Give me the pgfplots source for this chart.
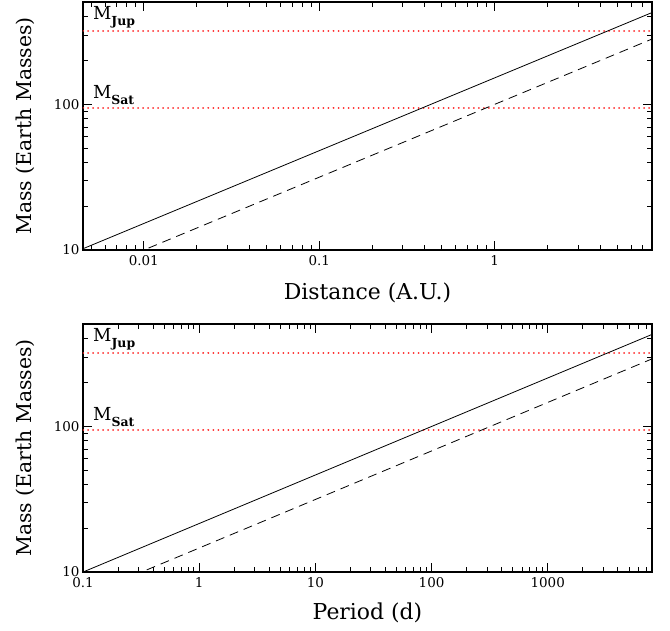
\documentclass[border=0pt]{standalone}
\usepackage{fontspec}
\setmainfont{DejaVu Serif}
\usepackage{pgfplots}
\pgfplotsset{compat=1.18}
\definecolor{myred}{RGB}{255,40,40}
\newcommand{\sub}[1]{\raisebox{-6bp}{\fontsize{12.5}{15}\selectfont\bfseries #1}}
\tikzset{
  mlab/.style={anchor=base west, font=\fontsize{18}{22}\selectfont, inner sep=0pt},
  reddots/.style={draw=myred, color=myred, line width=2bp, line cap=round, dash pattern=on 0.01bp off 5bp},
}
\pgfplotsset{
  mystyle/.style={
    scale only axis, width=569bp, height=248bp,
    ymin=10, ymax=505,
    ytick={10,100}, yticklabels={10,100},
    minor ytick={20,30,40,50,60,70,80,90,200,300,400,500},
    tick align=inside, major tick length=9bp, minor tick length=5bp,
    tick style={black, line width=0.8bp},
    axis line style={line width=1.2bp},
    /pgf/number format/assume math mode=true,
    xticklabel style={font=\fontsize{13.5}{16}\selectfont, yshift=-2bp},
    yticklabel style={font=\fontsize{13.5}{16}\selectfont},
    ylabel={Mass (Earth Masses)},
    ylabel style={at={(axis description cs:-0.102,0.5)}, anchor=center, font=\fontsize{20.5}{25}\selectfont},
    clip=true,
  },
}
\begin{document}
\begin{tikzpicture}
\useasboundingbox (0,0) rectangle (670bp,631bp);
\begin{axis}[xmode=log, ymode=log, mystyle, at={(83bp,381bp)}, anchor=south west,
  xmin=0.0045, xmax=7.9,
  xtick={0.01,0.1,1}, xticklabels={0.01,0.1,1},
  minor xtick={0.005,0.006,0.007,0.008,0.009,0.02,0.03,0.04,0.05,0.06,0.07,0.08,0.09,0.2,0.3,0.4,0.5,0.6,0.7,0.8,0.9,2,3,4,5,6,7},
  xlabel={Distance (A.U.)},
  xlabel style={at={(axis description cs:0.5,-0.2)}, anchor=base, font=\fontsize{22}{26}\selectfont},
]
\addplot[reddots] coordinates {(0.0045,317.8) (7.9,317.8)};
\addplot[reddots] coordinates {(0.0045,95.2) (7.9,95.2)};
\addplot[color=black, line width=0.8bp] coordinates {(0.001,4.81) (10,480.7)};
\addplot[color=black, line width=0.8bp, dash pattern=on 9bp off 6bp] coordinates {(0.001,3.16) (10,316.2)};
\node[mlab] at (axis cs:0.00512,384) {M\sub{Jup}};
\node[mlab] at (axis cs:0.00512,110) {M\sub{Sat}};
\end{axis}
\begin{axis}[xmode=log, ymode=log, mystyle, at={(83bp,59bp)}, anchor=south west,
  xmin=0.1, xmax=7900,
  xtick={0.1,1,10,100,1000}, xticklabels={0.1,1,10,100,1000},
  minor xtick={0.2,0.3,0.4,0.5,0.6,0.7,0.8,0.9,2,3,4,5,6,7,8,9,20,30,40,50,60,70,80,90,200,300,400,500,600,700,800,900,2000,3000,4000,5000,6000,7000},
  xlabel={Period (d)},
  xlabel style={at={(axis description cs:0.5,-0.19)}, anchor=base, font=\fontsize{22}{26}\selectfont},
]
\addplot[reddots] coordinates {(0.1,317.8) (7900,317.8)};
\addplot[reddots] coordinates {(0.1,95.2) (7900,95.2)};
\addplot[color=black, line width=0.8bp] coordinates {(0.01,4.64) (10000,463.2)};
\addplot[color=black, line width=0.8bp, dash pattern=on 9bp off 6bp] coordinates {(0.01,3.15) (10000,314.6)};
\node[mlab] at (axis cs:0.122,384) {M\sub{Jup}};
\node[mlab] at (axis cs:0.122,110) {M\sub{Sat}};
\end{axis}
\end{tikzpicture}
\end{document}
